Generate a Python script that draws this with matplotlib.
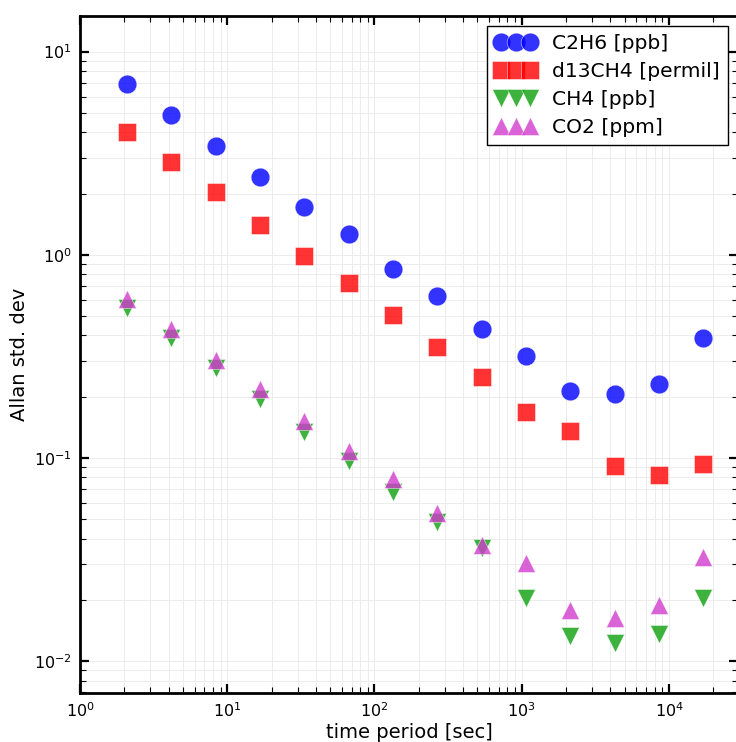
import numpy as np
import matplotlib
matplotlib.use("Agg")
import matplotlib.pyplot as plt
from matplotlib.ticker import LogLocator, NullFormatter

# time periods [sec]
tau = [2.08, 4.17, 8.33, 16.7, 33.3, 66.7, 133, 267, 533, 1067, 2133, 4267, 8533, 17067]

# Allan deviations per species
c2h6 = [6.91, 4.87, 3.43, 2.41, 1.72, 1.27, 0.854, 0.629, 0.433, 0.316, 0.212, 0.206, 0.230, 0.387]
d13ch4 = [4.02, 2.86, 2.04, 1.40, 0.989, 0.729, 0.502, 0.353, 0.249, 0.168, 0.135, 0.091, 0.0822, 0.0931]
ch4 = [0.549, 0.391, 0.278, 0.194, 0.134, 0.0963, 0.0681, 0.0483, 0.0359, 0.0203, 0.0133, 0.0123, 0.0136, 0.0204]
co2 = [0.606, 0.432, 0.304, 0.217, 0.151, 0.108, 0.0783, 0.0533, 0.0370, 0.0303, 0.0179, 0.0162, 0.0189, 0.0326]

series = [
    (c2h6, "C2H6 [ppb]", "o", "#0000ff"),
    (d13ch4, "d13CH4 [permil]", "s", "#ff0000"),
    (ch4, "CH4 [ppb]", "v", "#0ca00c"),
    (co2, "CO2 [ppm]", "^", "#d03ccd"),
]

fig = plt.figure(figsize=(7.36, 7.42), dpi=100)
# axes box: left 80px, right ~738px (just past the edge), top 16px, bottom 692px
W, H = 736, 742
ax = fig.add_axes([80 / W, (H - 692.7) / H, (738 - 80) / W, (692.7 - 16) / H])

for vals, label, mk, col in series:
    ax.plot(tau, vals, linestyle="none", marker=mk, markersize=13.5,
            color=col, alpha=0.8, markeredgecolor="white", markeredgewidth=0.4,
            label=label)

ax.set_xscale("log")
ax.set_yscale("log")
ax.set_xlim(1, 10 ** ((738 - 80) / 147.25))
ax.set_ylim(0.00697, 14.97)

ax.xaxis.set_minor_locator(LogLocator(base=10, subs=np.arange(2, 10), numticks=20))
ax.yaxis.set_minor_locator(LogLocator(base=10, subs=np.arange(2, 10), numticks=20))
ax.xaxis.set_minor_formatter(NullFormatter())
ax.yaxis.set_minor_formatter(NullFormatter())

ax.grid(True, which="both", color="#ececec", linewidth=0.7)
ax.set_axisbelow(True)

for sp in ax.spines.values():
    sp.set_linewidth(2.0)

ax.tick_params(which="both", direction="in", top=True, right=True)
ax.tick_params(which="major", length=6.5, width=1.6, labelsize=11.5, pad=6)
ax.tick_params(which="minor", length=4.3, width=0.8)

ax.set_xlabel("time period [sec]", fontsize=14, labelpad=2)
ax.set_ylabel("Allan std. dev", fontsize=14, labelpad=3.5)

leg = ax.legend(loc="upper right", fontsize=14.6, numpoints=3, handlelength=2.0,
                handletextpad=0.8, labelspacing=0.44, borderpad=0.4,
                fancybox=False, framealpha=1, edgecolor="black")
leg.get_frame().set_linewidth(1.0)

fig.savefig("out.png", dpi=100)
